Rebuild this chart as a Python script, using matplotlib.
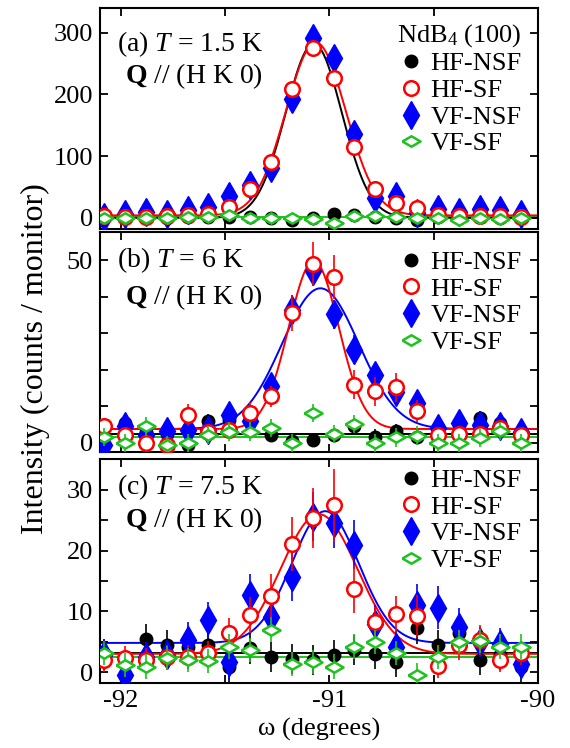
import numpy as np
import matplotlib
matplotlib.use('Agg')
import matplotlib.pyplot as plt
from matplotlib.lines import Line2D

plt.rcParams['font.family'] = ['Liberation Serif', 'DejaVu Serif']
plt.rcParams['mathtext.fontset'] = 'custom'
plt.rcParams['mathtext.rm'] = 'Liberation Serif'
plt.rcParams['mathtext.it'] = 'Liberation Serif:italic'
plt.rcParams['mathtext.bf'] = 'Liberation Serif:bold'

# scan positions (degrees)
omega = np.array([-92.08, -91.98, -91.88, -91.78, -91.68, -91.58, -91.48, -91.38, -91.28, -91.18,
                  -91.08, -90.98, -90.88, -90.78, -90.68, -90.58, -90.48, -90.38, -90.28, -90.18, -90.08])

# (a) T = 1.5 K
a_hf_nsf = [1, 2, 1, 0, 1, 2, 1, 2, 0, -3, 0, 7, 5, 2, 0, -4, 1, 0, 1, 0, 1]
a_hf_nsf_err = [2, 2, 2, 2, 2, 2, 2, 2, 2, 2, 2, 3, 3, 2, 2, 2, 2, 2, 2, 2, 2]
a_hf_sf = [3, 2, 2, 3, 5, 6, 18, 46, 90, 208, 275, 227, 114, 47, 24, 16, 4, 3, 3, 3, 2]
a_hf_sf_err = [2, 2, 2, 2, 2, 2, 3, 5, 7, 10, 12, 10, 7, 5, 3, 3, 2, 2, 2, 2, 2]
a_vf_nsf = [2, 7, 10, 7, 12, 18, 35, 53, 80, 192, 291, 259, 135, 32, 35, 8, 14, 9, 14, 13, 6]
a_vf_nsf_err = [2, 2, 2, 2, 3, 3, 4, 5, 6, 10, 12, 11, 8, 4, 4, 2, 3, 2, 3, 3, 2]
a_vf_sf = [0, 0, -1, -1, 1, 1, 5, 0, 0, 0, -2, -9, 3, 3, 2, 0, 0, -3, 0, -2, -1]
a_vf_sf_err = [2] * 21

# (b) T = 6 K
b_hf_nsf = [2, 5.4, 3, 2.5, -0.5, 5.9, 6.3, 6.3, 2.2, 0.4, 0.8, 2.2, 4.5, 1.7, 3.3, 1.7, 2.5, 3, 6.8, 5.4, 1.3]
b_hf_nsf_err = [2] * 21
b_hf_sf = [4.5, 2.2, 0, -0.5, 7.7, 3.1, 3.6, 8.3, 12.7, 35.6, 48.9, 45.4, 15.9, 14.1, 15.2, 8.6, 2.2, 2.4, 2.4, 4.2, 2.2]
b_hf_sf_err = [2, 2, 2, 2, 3, 2, 2, 3, 3, 5, 6, 6, 4, 4, 4, 3, 2, 2, 2, 2, 2]
b_vf_nsf = [-0.5, 4.5, 2.2, 3.3, 3.6, 3.5, 7.7, 6, 15.5, 36.5, 47, 35.2, 25.5, 18.7, 14, 10.9, 4, 5.4, 4.9, 4.5, 3]
b_vf_nsf_err = [2, 2, 2, 2, 2, 2, 3, 3, 3, 4, 4, 4, 4, 3, 3, 3, 2, 2, 2, 2, 2]
b_vf_sf = [1.7, -0.1, 4.5, -0.5, 0, 2.2, 3.1, 3.1, 4.0, -0.1, 8.2, 2.4, 5.1, 0, 1.5, 2.0, 0, 0, 1.3, 3.3, 0]
b_vf_sf_err = [2.5] * 21

# (c) T = 7.5 K
c_hf_nsf = [3, -0.5, 5.5, 4.5, 4.2, 4.5, 0.9, 3.9, 2.5, 2.1, 2.0, 2.8, 3.6, 3, 1.7, 7.2, 4.5, 6.4, 2.0, 2.8, 0.9]
c_hf_nsf_err = [2.5] * 21
c_hf_sf = [2.0, 2.3, 2.0, 2.5, 2.5, 3.1, 6.4, 9.4, 12.6, 21.1, 25.4, 27.5, 13.7, 8.3, 9.6, 9.2, 1.0, 4.5, 5.3, 2.0, 3.2]
c_hf_sf_err = [2, 2, 2, 2, 2, 2, 2.5, 3, 3.5, 4.5, 5, 6, 4, 2.5, 3, 3.5, 2, 2.5, 2.5, 2, 2]
c_vf_nsf = [2.8, -0.5, 2.5, 2.8, 5.3, 8.6, 1.7, 12.7, 9.1, 15.7, 25.6, 24.5, 21.0, 8.0, 4.2, 11.0, 10.6, 7.5, 5, 4.7, 1.4]
c_vf_nsf_err = [2.5, 2.5, 2.5, 2.5, 3, 3, 3, 3.5, 3, 4, 4, 4, 4, 3, 2.5, 3.5, 3.5, 3, 2.5, 2.5, 2]
c_vf_sf = [3.1, 1.2, 0.9, 2.3, 2.0, 1.8, 4.2, 3.6, 7.0, 1.3, 1.7, 0.9, 4.2, 5.0, 3.1, -0.5, 2.5, 5.0, 5.1, 4.2, 4.2]
c_vf_sf_err = [2] * 21

# gaussian fits: (center, sigma, amplitude, background)
a_fit_black = (-91.075, 0.134, 282, 0)
a_fit_red = (-91.065, 0.143, 280, 4)
a_flat_green = 2
b_fit_red = (-91.075, 0.12, 46, 3.8)
b_fit_blue = (-91.043, 0.184, 38.5, 3.8)
b_flat_black = 2.4
b_flat_green = 1.7
c_fit_red = (-91.05, 0.185, 23, 3.0)
c_fit_blue = (-91.02, 0.16, 21.7, 4.8)
c_flat_black = 3.2
c_flat_green = 2.5

RED = '#ff0000'
BLUE = '#0000ff'
GREEN = '#1ec21e'
FS = 19

flat_diamond = [(-1, 0), (0, 0.58), (1, 0), (0, -0.58), (-1, 0)]
styles = {
    'HF-NSF': dict(marker='o', ms=9, mfc='black', mec='black', color='black', mew=1),
    'HF-SF': dict(marker='o', ms=10.5, mfc='white', mec=RED, color=RED, mew=1.8),
    'VF-NSF': dict(marker='d', ms=14, mfc=BLUE, mec=BLUE, color=BLUE, mew=1),
    'VF-SF': dict(marker=flat_diamond, ms=13, mfc='white', mec=GREEN, color=GREEN, mew=1.8),
}


def gauss(x, p):
    c, s, amp, bg = p
    return bg + amp * np.exp(-0.5 * ((x - c) / s) ** 2)


def draw_points(ax, name, y, err, z):
    st = styles[name]
    ax.errorbar(omega, y, yerr=err, fmt='none', ecolor=st['color'], elinewidth=1.2,
                capsize=0, zorder=z)
    ax.plot(omega, y, ls='none', marker=st['marker'], ms=st['ms'], mfc=st['mfc'],
            mec=st['mec'], mew=st['mew'], zorder=z + 0.5, clip_on=True)


fig = plt.figure(figsize=(5.7, 7.48), dpi=100)
left, width = 0.1754, 0.7684
ax_a = fig.add_axes([left, 0.6939, width, 0.2955])
ax_b = fig.add_axes([left, 0.3957, width, 0.2941])
ax_c = fig.add_axes([left, 0.0869, width, 0.2995])

xfit = np.linspace(-92.1, -90.0, 400)

# panel, tag, temperature, text y positions, legend anchor y, data
panels = [
    (ax_a, 'a', '1.5', (0.835, 0.69), 1.02, (a_hf_nsf, a_hf_nsf_err), (a_hf_sf, a_hf_sf_err),
     (a_vf_nsf, a_vf_nsf_err), (a_vf_sf, a_vf_sf_err)),
    (ax_b, 'b', '6', (0.873, 0.705), 1.0, (b_hf_nsf, b_hf_nsf_err), (b_hf_sf, b_hf_sf_err),
     (b_vf_nsf, b_vf_nsf_err), (b_vf_sf, b_vf_sf_err)),
    (ax_c, 'c', '7.5', (0.875, 0.728), 1.04, (c_hf_nsf, c_hf_nsf_err), (c_hf_sf, c_hf_sf_err),
     (c_vf_nsf, c_vf_nsf_err), (c_vf_sf, c_vf_sf_err)),
]

lw = 1.4
# fit lines
ax_a.plot(xfit, np.full_like(xfit, a_flat_green), color=GREEN, lw=lw, zorder=1)
ax_a.plot(xfit, gauss(xfit, a_fit_black), color='black', lw=lw, zorder=1)
ax_a.plot(xfit, gauss(xfit, a_fit_red), color=RED, lw=lw, zorder=1)
ax_b.plot(xfit, np.full_like(xfit, b_flat_green), color=GREEN, lw=lw, zorder=1)
ax_b.plot(xfit, np.full_like(xfit, b_flat_black), color='black', lw=lw, zorder=1)
ax_b.plot(xfit, gauss(xfit, b_fit_blue), color=BLUE, lw=lw, zorder=1)
ax_b.plot(xfit, gauss(xfit, b_fit_red), color=RED, lw=lw, zorder=1)
ax_c.plot(xfit, np.full_like(xfit, c_flat_green), color=GREEN, lw=lw, zorder=1)
ax_c.plot(xfit, np.full_like(xfit, c_flat_black), color='black', lw=lw, zorder=1)
ax_c.plot(xfit, gauss(xfit, c_fit_blue), color=BLUE, lw=lw, zorder=1)
ax_c.plot(xfit, gauss(xfit, c_fit_red), color=RED, lw=lw, zorder=1)

for ax, tag, temp, ty, ly, hfn, hfs, vfn, vfs in panels:
    draw_points(ax, 'HF-NSF', hfn[0], hfn[1], 2)
    draw_points(ax, 'VF-NSF', vfn[0], vfn[1], 3)
    draw_points(ax, 'HF-SF', hfs[0], hfs[1], 4)
    draw_points(ax, 'VF-SF', vfs[0], vfs[1], 5)

    ax.set_xlim(-92.1, -90.0)
    ax.set_xticks([-92, -91.5, -91, -90.5, -90])
    ax.set_xticklabels(['-92', '', '-91', '', '-90'])
    ax.tick_params(direction='in', top=True, right=True, length=6, width=1.3,
                   labelsize=FS, pad=5)
    for sp in ax.spines.values():
        sp.set_linewidth(1.5)

    ax.text(0.04, ty[0], '(%s) $T$ = %s K' % (tag, temp), transform=ax.transAxes,
            fontsize=FS + 1, va='center', ha='left')
    ax.text(0.058, ty[1], r'$\mathbf{Q}$ // (H K 0)', transform=ax.transAxes,
            fontsize=FS + 1, va='center', ha='left')

    handles = [Line2D([], [], ls='none', marker=styles[n]['marker'], ms=styles[n]['ms'],
                      mfc=styles[n]['mfc'], mec=styles[n]['mec'], mew=styles[n]['mew'],
                      label=n)
               for n in ['HF-NSF', 'HF-SF', 'VF-NSF', 'VF-SF']]
    if tag == 'a':
        ax.legend(handles=handles, title='NdB$_4$ (100)', loc='upper right',
                  bbox_to_anchor=(1.005, ly), frameon=False, fontsize=FS,
                  title_fontsize=FS, handlelength=1.0, handletextpad=0.25,
                  labelspacing=0.12, borderpad=0.2)
    else:
        ax.legend(handles=handles, loc='upper right', bbox_to_anchor=(1.005, ly),
                  frameon=False, fontsize=FS, handlelength=1.0, handletextpad=0.25,
                  labelspacing=0.12, borderpad=0.2)

ax_a.set_ylim(-18, 340)
ax_a.set_yticks([0, 100, 200, 300])
ax_b.set_ylim(-2.5, 57.7)
ax_b.set_yticks(np.arange(0, 51, 10))
ax_b.set_yticklabels(['0', '', '', '', '', '50'])
ax_c.set_ylim(-1.8, 35.1)
ax_c.set_yticks(np.arange(0, 31, 5))
ax_c.set_yticklabels(['0', '', '10', '', '20', '', '30'])

ax_a.set_xticklabels([])
ax_b.set_xticklabels([])

ax_c.set_xlabel('ω (degrees)', fontsize=FS, labelpad=4)
fig.text(0.062, 0.521, 'Intensity (counts / monitor)', rotation=90, fontsize=23,
         ha='center', va='center')

fig.savefig('out.png', dpi=100)
